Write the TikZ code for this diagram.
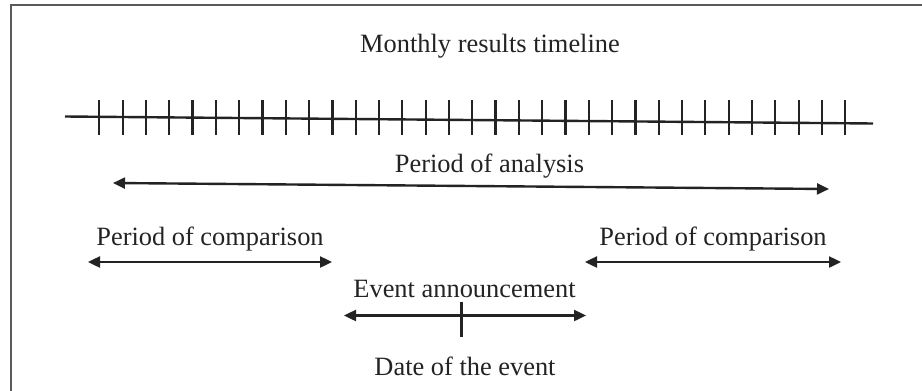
\documentclass[tikz,border=0pt]{standalone}
\usepackage{fontspec}
\setmainfont{Liberation Serif}
\usetikzlibrary{arrows.meta}
\definecolor{ink}{RGB}{35,35,35}
\definecolor{frame}{RGB}{90,90,90}
\begin{document}
\begin{tikzpicture}[x=1pt,y=-1pt,
  lbl/.style={anchor=base, inner sep=0pt, font=\fontsize{26.4}{30}\selectfont, text=ink},
  ln/.style={draw=ink, line width=2.4pt},
  tick/.style={draw=ink, line width=2.2pt},
  tip/.style={},
  dbl/.style={ln, {Triangle[length=12pt,width=11pt]}-{Triangle[length=12pt,width=11pt]}},
]
\useasboundingbox (0,0) rectangle (922,391);
% frame (only left and top edges visible)
\coordinate (fbl) at (11,391);
\coordinate (ftl) at (11,5);
\coordinate (ftr) at (922,5);
\draw[draw=frame, line width=2.4pt] (fbl) -- (ftl) -- (ftr);

% title
\node[lbl] (title) at (490,52) {Monthly results timeline};

% timeline
\coordinate (tl0) at (65,116.5);
\coordinate (tl1) at (873,123.5);
\draw[ln] (tl0) -- (tl1);
\foreach \i in {0,...,32} {
  \coordinate (tka\i) at ({99.3+23.31*\i},100);
  \coordinate (tkb\i) at ({99.3+23.31*\i},135);
  \draw[tick] (tka\i) -- (tkb\i);
}

% period of analysis
\node[lbl] (analysis) at (489.5,172) {Period of analysis};
\coordinate (pa0) at (113,183);
\coordinate (pa1) at (829,189);
\draw[dbl] (pa0) -- (pa1);

% left period of comparison
\node[lbl] (cmpL) at (210,245) {Period of comparison};
\coordinate (cl0) at (88,262);
\coordinate (cl1) at (332,262);
\draw[dbl] (cl0) -- (cl1);

% right period of comparison
\node[lbl] (cmpR) at (713,245) {Period of comparison};
\coordinate (cr0) at (585,262);
\coordinate (cr1) at (841,262);
\draw[dbl] (cr0) -- (cr1);

% event announcement
\node[lbl] (event) at (464.5,297) {Event announcement};
\coordinate (ev0) at (344,315.5);
\coordinate (ev1) at (586,315.5);
\draw[dbl] (ev0) -- (ev1);
\coordinate (et0) at (461.5,301.5);
\coordinate (et1) at (461.5,337);
\draw[tick] (et0) -- (et1);

% date of the event
\node[lbl] (date) at (465,375) {Date of the event};
\end{tikzpicture}
\end{document}
